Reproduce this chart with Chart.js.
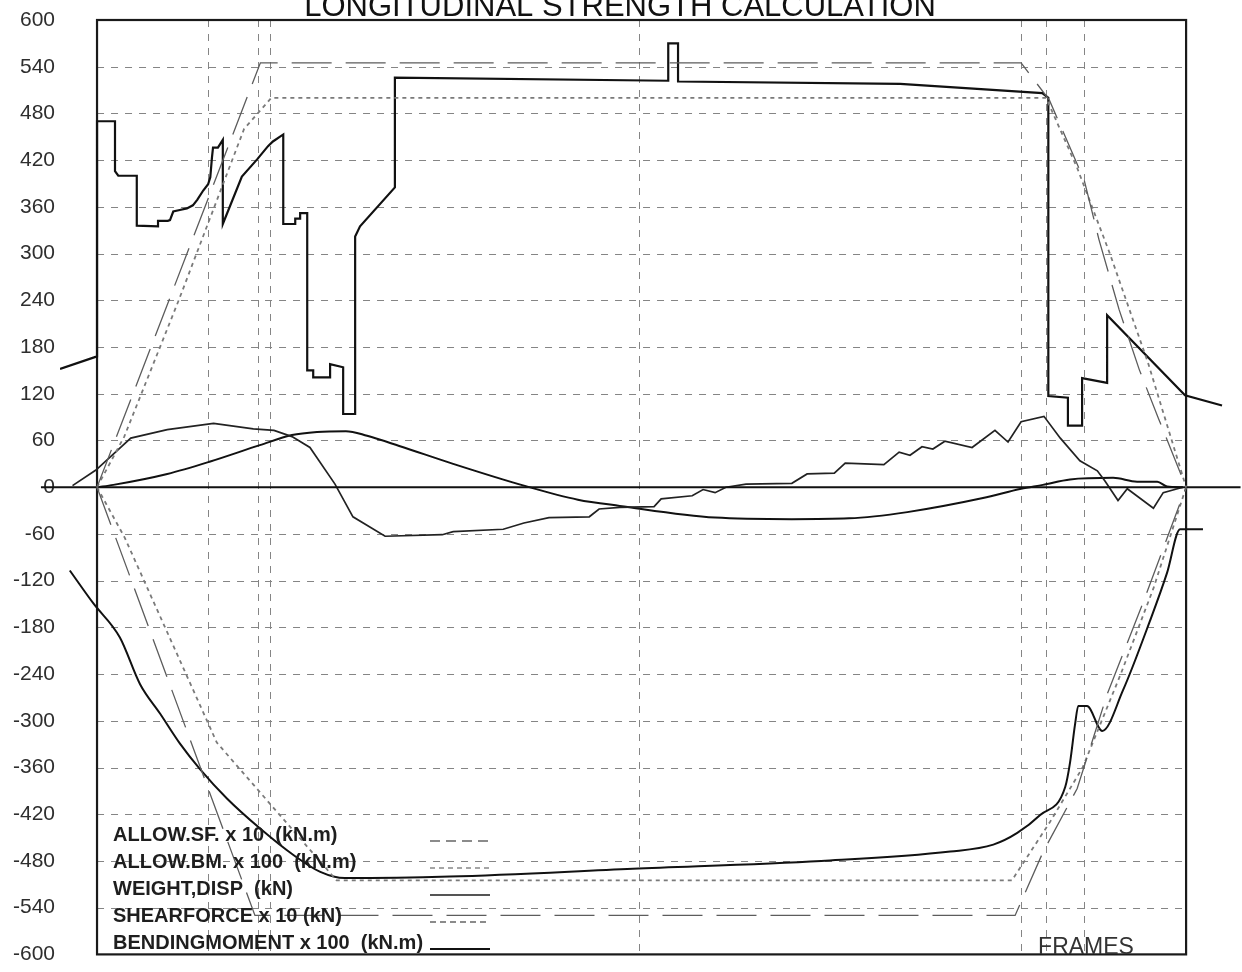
<!DOCTYPE html>
<html>
<head>
<meta charset="utf-8">
<title>Longitudinal strength calculation</title>
<script src="https://cdn.jsdelivr.net/npm/chart.js"></script>
<style>
  body { margin: 0; background: #fff; }
  canvas { display: block; }
</style>
</head>
<body>
<canvas id="myChart" width="1242" height="972"></canvas>
<script>
// x = frame number along the ship (0 = aft end, 200 = fore end), y = value on the common scale
var shipStart = 0;
var shipEnd = 200;
var yMin = -600;
var yMax = 600;
var yStep = 60;
var gridFrames = [20.3, 29.5, 31.7, 99.5, 169.7, 174.3, 181.3];

// WEIGHT (stepped) and DISP (buoyancy, negative), kN
var weightFrames = [-6.8, 0, 0, 3.3, 3.3, 3.9, 7.3, 7.3, 11.2, 11.2,
  13.0, 13.4, 14.0, 15.2, 16.5, 17.6, 18.4, 19.5, 20.4, 20.8,
  21.1, 21.3, 22.2, 23.1, 23.1, 26.6, 29.4, 31.4, 32.3, 34.2,
  34.2, 36.4, 36.4, 37.3, 37.3, 38.6, 38.6, 39.7, 39.7, 42.8,
  42.8, 45.2, 45.2, 47.4, 47.4, 48.3, 54.7, 54.7, 104.9, 104.9,
  106.7, 106.7, 147.5, 173.6, 174.7, 174.7, 178.3, 178.3, 180.9, 180.9,
  185.5, 185.5, 199.8, 206.6];
var weightValues = [152, 168, 470, 470, 406, 400, 400, 336, 335, 342,
  342, 343, 354, 356, 358, 362, 369, 381, 389, 398,
  423, 436, 436, 446, 338, 399, 421, 438, 444, 453,
  338, 338, 345, 345, 352, 352, 150, 150, 141, 141,
  158, 154, 94, 94, 322, 335, 385, 526, 522, 570,
  570, 521, 518, 506, 500, 117, 115, 79, 79, 140,
  134, 221, 118, 105];

var dispFrames = [-5, -0.7, 4.2, 7.9, 11.6, 15.2, 18.9, 23.9, 29.9, 36,
  41, 45.5, 64.8, 98.4, 133, 156.7, 164.6, 169, 173.2, 177.8,
  178.7, 179.6, 180.2, 181.8, 184.6, 188.4, 193.4, 196.5, 198.9, 203.1];
var dispValues = [-107, -149, -193, -253, -291, -329, -362, -400, -438, -472,
  -494, -502, -500, -490, -480, -468, -459, -444, -421, -385,
  -353, -305, -281, -281, -313, -261, -171, -110, -54, -54];

// SHEARFORCE x 10 (kN)
var sfFrames = [-4.5, -0.2, 6.2, 12.9, 21.4, 28.7, 32.5, 35.8, 39.1, 43.7,
  47, 52.9, 63.4, 65.4, 74.6, 78.4, 83, 90.4, 92.2, 96,
  102.3, 103.6, 109.3, 111.3, 113.5, 115.5, 119.2, 127.6, 130.4, 135.4,
  137.4, 144.5, 147.3, 149.3, 151.5, 153.5, 155.7, 160.7, 164.9, 167.3,
  169.7, 173.9, 176.9, 180.5, 183.7, 185.1, 187.5, 189.2, 194, 195.8,
  199.4];
var sfValues = [2, 22, 63, 74, 82, 75, 73, 65, 51, 4,
  -38, -63, -61, -57, -54, -46, -39, -38, -28, -26,
  -25, -15, -11, -3, -7, 0, 4, 5, 17, 18,
  31, 29, 45, 41, 52, 49, 59, 51, 73, 58,
  84, 91, 63, 34, 21, 8, -17, -2, -27, -7,
  0];

// BENDINGMOMENT x 100 (kN.m)
var bmFrames = [0, 3, 12.9, 20.8, 29.9, 35.8, 40.4, 45.7, 49.6, 55.5,
  65.4, 78.4, 88.3, 96, 113.5, 127.6, 138.1, 148.8, 162.7, 169.7,
  173.7, 178.7, 186.6, 191, 194.7, 196.5, 199.4];
var bmValues = [0, 3, 17, 33, 54, 67, 71, 72, 66, 53,
  30, 2, -16, -24, -39, -41, -40, -32, -14, -2,
  3, 10, 12, 7, 7, 1, 0];

// ALLOW.SF x 10 and ALLOW.BM x 100 envelopes
var allowSfUpperFrames = [0, 30, 169.7, 174.9, 181.3, 184, 187.7, 191.4, 195, 200];
var allowSfUpper = [0, 545, 545, 497, 394, 318, 228, 151, 87, 0];
var allowSfLowerFrames = [0, 29, 168.6, 173.7, 180, 185.5, 192, 200];
var allowSfLower = [0, -550, -550, -469, -387, -266, -150, 0];
var allowBmUpperFrames = [0, 5, 15, 27, 32, 174.3, 180, 186, 193, 200];
var allowBmUpper = [0, 65, 240, 460, 500, 500, 410, 300, 160, 0];
var allowBmLowerFrames = [0, 5.1, 22, 44, 168, 175, 181, 188, 194, 200];
var allowBmLower = [0, -65, -328, -505, -505, -430, -360, -240, -130, 0];

var axisFrames = [-10.3, 210];
var axisValues = [0, 0];

var legendLabels = [
  "ALLOW.SF. x 10  (kN.m)",
  "ALLOW.BM. x 100  (kN.m)",
  "WEIGHT,DISP  (kN)",
  "SHEARFORCE x 10 (kN)",
  "BENDINGMOMENT x 100  (kN.m)",
];

function pts(xs, ys) {
  return xs.map(function (x, i) {
    return { x: x, y: ys[i] };
  });
}

function line(data, color, width, dash, extra) {
  var ds = {
    data: data,
    borderColor: color,
    borderWidth: width,
    borderDash: dash || [],
    pointRadius: 0,
    fill: false,
    tension: 0,
  };
  return Object.assign(ds, extra || {});
}

var legendStyles = [
  { color: "#666", width: 1.3, dash: [10, 6] },
  { color: "#888", width: 1.6, dash: [5, 4] },
  { color: "#555", width: 2, dash: [] },
  { color: "#666", width: 1.6, dash: [6, 4] },
  { color: "#111", width: 2, dash: [] },
];

var frameBox = {
  id: "frameBox",
  beforeDatasetsDraw: function (chart) {
    var c = chart.ctx;
    var xs = chart.scales.x;
    var ys = chart.scales.y;
    var left = xs.getPixelForValue(shipStart);
    var right = xs.getPixelForValue(shipEnd);
    var top = ys.getPixelForValue(yMax);
    var bottom = ys.getPixelForValue(yMin);
    c.save();
    c.strokeStyle = "#858585";
    c.lineWidth = 1;
    c.setLineDash([7, 7]);
    for (var v = yMin + yStep; v < yMax; v += yStep) {
      if (v === 0) continue;
      var py = Math.round(ys.getPixelForValue(v)) + 0.5;
      c.beginPath();
      c.moveTo(left, py);
      c.lineTo(right, py);
      c.stroke();
    }
    gridFrames.forEach(function (f) {
      var px = Math.round(xs.getPixelForValue(f)) + 0.5;
      c.beginPath();
      c.moveTo(px, top);
      c.lineTo(px, bottom);
      c.stroke();
    });
    c.setLineDash([]);
    c.strokeStyle = "#1a1a1a";
    c.lineWidth = 2.2;
    c.strokeRect(left, top, right - left, bottom - top);
    c.restore();
  },
  afterDraw: function (chart) {
    var c = chart.ctx;
    c.save();
    // title, cut off at the top edge as in the scan
    c.fillStyle = "#111";
    c.font = '31px "Liberation Sans", Arial, sans-serif';
    c.textAlign = "center";
    c.textBaseline = "alphabetic";
    c.fillText("LONGITUDINAL STRENGTH CALCULATION", 620, 16);

    c.font = '23px "Liberation Sans", Arial, sans-serif';
    c.fillStyle = "#333";
    c.textBaseline = "middle";
    c.fillText("FRAMES", 1086, 948);

    // legend, bottom left inside the frame
    c.textAlign = "left";
    c.font = 'bold 20px "Liberation Sans", Arial, sans-serif';
    c.fillStyle = "#1e1e1e";
    legendLabels.forEach(function (label, i) {
      var ty = 835 + i * 27;
      c.fillText(label, 113, ty);
      var st = legendStyles[i];
      c.strokeStyle = st.color;
      c.lineWidth = st.width;
      c.setLineDash(st.dash);
      c.beginPath();
      c.moveTo(430, ty + 6);
      c.lineTo(490, ty + 6);
      c.stroke();
    });
    c.restore();
  },
};

var ctx = document.getElementById("myChart").getContext("2d");
// eslint-disable-next-line no-undef
var myChart = new Chart(ctx, {
  type: "line",
  data: {
    datasets: [
      line(pts(allowSfUpperFrames, allowSfUpper), "#5c5c5c", 1.3, [40, 14]),
      line(pts(allowSfLowerFrames, allowSfLower), "#5c5c5c", 1.3, [40, 14]),
      line(pts(allowBmUpperFrames, allowBmUpper), "#7a7a7a", 1.8, [4, 4]),
      line(pts(allowBmLowerFrames, allowBmLower), "#7a7a7a", 1.8, [4, 4]),
      line(pts(axisFrames, axisValues), "#111", 2, [], { clip: false }),
      line(pts(weightFrames, weightValues), "#111", 2.2),
      line(pts(dispFrames, dispValues), "#111", 2, [], { cubicInterpolationMode: "monotone" }),
      line(pts(sfFrames, sfValues), "#222", 1.7),
      line(pts(bmFrames, bmValues), "#111", 2, [], { cubicInterpolationMode: "monotone" }),
    ],
  },
  options: {
    responsive: false,
    animation: false,
    layout: { padding: { top: 20, bottom: 14, left: 0, right: 2 } },
    plugins: {
      legend: { display: false },
      tooltip: { enabled: false },
    },
    scales: {
      x: {
        type: "linear",
        min: -6.8,
        max: 209.9,
        display: false,
      },
      y: {
        min: yMin,
        max: yMax,
        grid: { display: false, drawTicks: false },
        border: { display: false },
        ticks: {
          stepSize: yStep,
          autoSkip: false,
          padding: 5,
          color: "#2e2e2e",
          font: { family: '"Liberation Sans", Arial, sans-serif', size: 21 },
        },
        afterFit: function (scale) {
          scale.width = 60;
        },
      },
    },
  },
  plugins: [frameBox],
});
</script>
</body>
</html>
